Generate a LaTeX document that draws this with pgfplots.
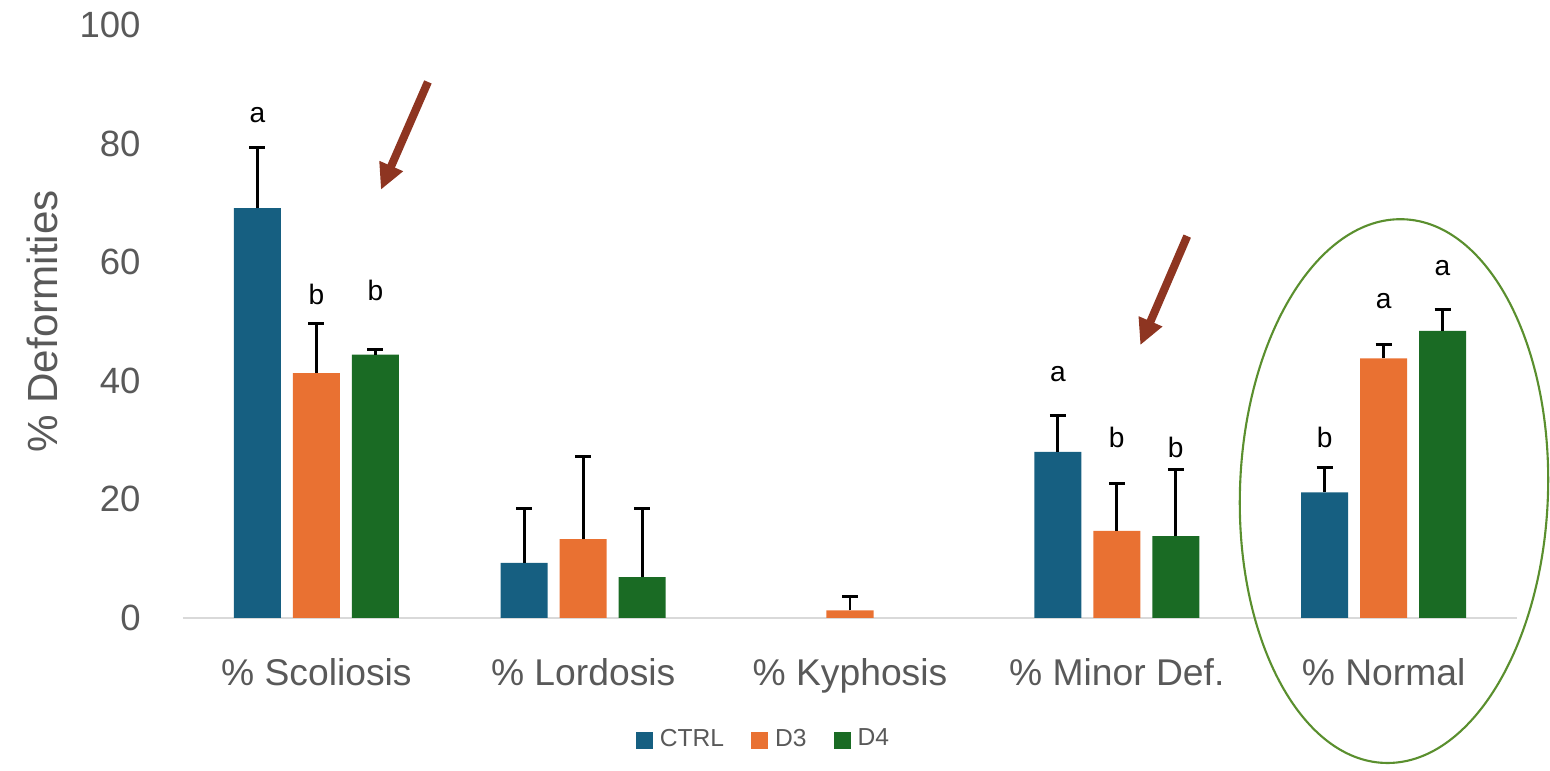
\documentclass[border=0pt]{standalone}
\usepackage{pgfplots}
\pgfplotsset{compat=1.18}
\usepackage{pgfplotstable}
\usepackage{fontspec}
\setmainfont{Liberation Sans}
\usetikzlibrary{arrows.meta}
\definecolor{ctrl}{HTML}{165F81}
\definecolor{dthree}{HTML}{E97132}
\definecolor{dfour}{HTML}{1A6B24}
\definecolor{txt}{HTML}{595959}
\definecolor{axl}{HTML}{D9D9D9}
\definecolor{arr}{HTML}{8E3521}
\definecolor{ell}{HTML}{5A8F2E}

\pgfplotstableread{
x y e
0 69.1 10.2
1 9.3 9.2
3 28.0 6.1
4 21.2 4.1
}\ctrltab
\pgfplotstableread{
x y e
0 41.3 8.3
1 13.3 14.0
2 1.3 2.4
3 14.7 7.9
4 43.8 2.4
}\dthreetab
\pgfplotstableread{
x y e
0 44.4 0.8
1 6.9 11.6
3 13.8 11.2
4 48.4 3.7
}\dfourtab

\pgfplotsset{myerr/.style={error bars/.cd, y dir=plus, y explicit,
  error bar style={black, line width=0.85pt},
  error mark options={rotate=90, mark size=0.08cm, line width=0.85pt, black}}}

\begin{document}
\begin{tikzpicture}[x=1cm,y=1cm]
\begin{axis}[
  at={(1.83cm,1.53cm)}, anchor=south west,
  scale only axis, width=13.34cm, height=5.93cm,
  ybar=0.12cm, bar width=0.47cm,
  xmin=-0.5, xmax=4.5, ymin=0, ymax=100,
  xtick={0,1,2,3,4},
  xticklabels={\% Scoliosis,\% Lordosis,\% Kyphosis,\% Minor Def.,\% Normal},
  ytick={0,20,40,60,80,100},
  /pgf/number format/assume math mode=true,
  axis lines=left,
  axis line style={-},
  x axis line style={draw=axl, line width=0.6pt},
  y axis line style={draw=none},
  major tick length=0pt,
  tick style={draw=none},
  ticklabel style={text=txt},
  xticklabel style={font=\fontsize{10.6}{12}\selectfont, yshift=-0.28cm},
  yticklabel style={font=\fontsize{10.4}{12}\selectfont, xshift=-0.3cm},
  ylabel={\% Deformities},
  ylabel style={font=\fontsize{12}{14}\selectfont, text=txt, at={(axis description cs:-0.1057,0.5)}, anchor=center},
  clip=false,
  legend style={at={(0.437,-0.206)}, anchor=center, draw=none, fill=none,
    legend columns=-1, font=\fontsize{7}{8}\selectfont, text=txt,
    /tikz/every even column/.append style={column sep=0.2cm}},
  legend image code/.code={\fill[#1] (0cm,-0.085cm) rectangle (0.17cm,0.085cm);},
]
\addplot[fill=ctrl, draw=none, myerr] table[x=x, y=y, y error=e] {\ctrltab};
\addplot[fill=dthree, draw=none, myerr] table[x=x, y=y, y error=e] {\dthreetab};
\addplot[fill=dfour, draw=none, myerr] table[x=x, y=y, y error=e] {\dfourtab};
\legend{CTRL,D3,D4}

\begin{scope}[every node/.style={font=\fontsize{8}{9}\selectfont, text=black}]
\node at (axis cs:-0.221,84.8) {a};
\node at (axis cs:0,54.5) {b};
\node at (axis cs:0.221,55.3) {b};
\node at (axis cs:2.779,41.1) {a};
\node at (axis cs:3,30.5) {b};
\node at (axis cs:3.221,28.7) {b};
\node at (axis cs:3.779,30.5) {b};
\node at (axis cs:4,53.5) {a};
\node at (axis cs:4.221,59.0) {a};
\end{scope}

\draw[arr, line width=2.3pt, -{Triangle[width=0.24cm,length=0.26cm]}] (axis cs:0.418,90.4) -- (axis cs:0.2416,72.2);
\draw[arr, line width=2.3pt, -{Triangle[width=0.24cm,length=0.26cm]}] (axis cs:3.264,64.4) -- (axis cs:3.088,46.0);
\coordinate (E) at (axis cs:4.039,21.4);
\draw[ell, line width=0.6pt, rotate around={-2:(E)}] (E) ellipse [x radius=1.54cm, y radius=2.72cm];
\end{axis}
\pgfresetboundingbox
\path[use as bounding box] (0,0) rectangle (15.5cm,7.71cm);
\end{tikzpicture}
\end{document}
